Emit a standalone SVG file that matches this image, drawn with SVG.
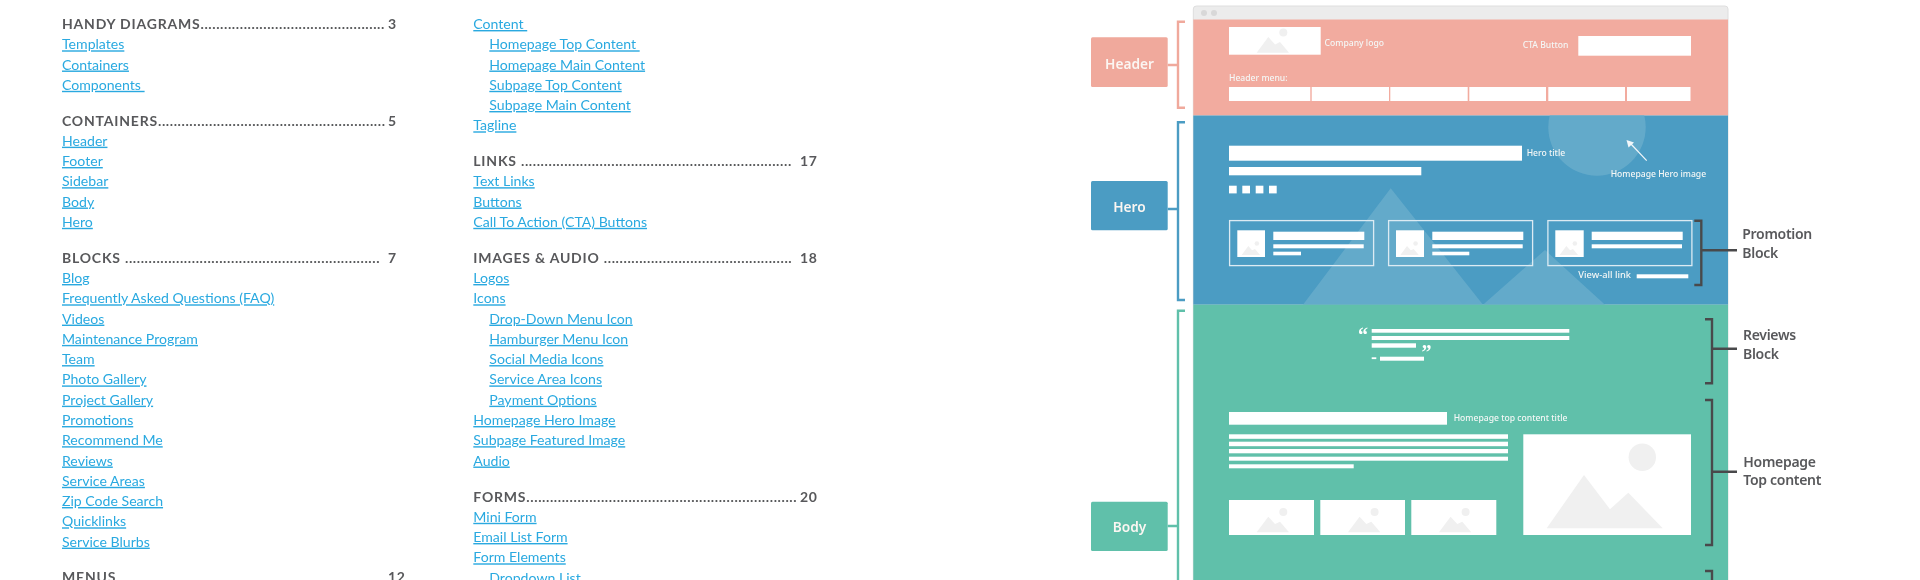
<svg xmlns="http://www.w3.org/2000/svg" width="1920" height="580" viewBox="0 0 1920 580">
<style>
text{white-space:pre}
.h{font:700 14px Lato,sans-serif;fill:#58595b;letter-spacing:.8px}
.h tspan{letter-spacing:.6px}
.l{font:400 14.1px Lato,sans-serif;fill:#29a9e0;text-decoration:underline}
.t{font-family:"Noto Sans",sans-serif;font-size:8.6px;fill:#f4f7f6;font-weight:500}
.n{font-family:"Noto Sans",sans-serif;font-size:13.7px;font-weight:600;fill:#fbf6f2;text-anchor:middle}
.d{font-family:"Noto Sans",sans-serif;font-size:14px;font-weight:600;fill:#58595b;letter-spacing:-.3px}
.q{font-family:"Liberation Serif",serif;font-weight:700;font-size:20px;fill:#fff}
.w{fill:#fff}
.m{fill:#f0f0f0}
.p{fill:none;stroke:#dcebf3;stroke-width:1.3}
.b{fill:none;stroke-width:2.4}
.pk{stroke:#f0a99c}.bl{stroke:#4b9cc3}.gr{stroke:#60c0aa}.dk{stroke:#4a4a4c}
.soft{filter:url(#soft)}
</style>
<defs>
<filter id="soft" filterUnits="userSpaceOnUse" x="0" y="0" width="1920" height="580"><feGaussianBlur stdDeviation=".4"/></filter>
<g id="mtn"><polygon class="m" points="27.7,32.3 39.3,16.7 46,24 51,21.7 60,32.3"/><circle class="m" cx="54.3" cy="12" r="4"/></g>
<clipPath id="heroClip"><rect x="1193.3" y="115.5" width="534.7" height="189.2"/></clipPath>
</defs>
<rect width="1920" height="580" fill="#fff"/>
<g id="toc-left" class="soft">
<text class="h" x="62" y="29">HANDY DIAGRAMS<tspan>...............................................</tspan><tspan x="388">3</tspan></text>
<text class="l" x="62" y="49.3">Templates</text>
<text class="l" x="62" y="69.5">Containers</text>
<text class="l" x="62" y="89.8">Components </text>
<text class="h" x="62" y="125.6">CONTAINERS<tspan>..........................................................</tspan><tspan x="388">5</tspan></text>
<text class="l" x="62" y="145.7">Header</text>
<text class="l" x="62" y="166">Footer</text>
<text class="l" x="62" y="186.2">Sidebar</text>
<text class="l" x="62" y="206.5">Body</text>
<text class="l" x="62" y="226.8">Hero</text>
<text class="h" x="62" y="262.8">BLOCKS <tspan>.................................................................</tspan><tspan x="388">7</tspan></text>
<text class="l" x="62" y="283">Blog</text>
<text class="l" x="62" y="303.3">Frequently Asked Questions (FAQ)</text>
<text class="l" x="62" y="323.6">Videos</text>
<text class="l" x="62" y="343.9">Maintenance Program</text>
<text class="l" x="62" y="364.1">Team</text>
<text class="l" x="62" y="384.4">Photo Gallery</text>
<text class="l" x="62" y="404.7">Project Gallery</text>
<text class="l" x="62" y="425">Promotions</text>
<text class="l" x="62" y="445.2">Recommend Me</text>
<text class="l" x="62" y="465.5">Reviews</text>
<text class="l" x="62" y="485.8">Service Areas</text>
<text class="l" x="62" y="506">Zip Code Search</text>
<text class="l" x="62" y="526.3">Quicklinks</text>
<text class="l" x="62" y="546.6">Service Blurbs</text>
<text class="h" x="62" y="582">MENUS<tspan>....................................................................</tspan><tspan x="388">12</tspan></text>
</g>
<g id="toc-right" class="soft">
<text class="l" x="473.3" y="29">Content </text>
<text class="l" x="489.3" y="49.3">Homepage Top Content </text>
<text class="l" x="489.3" y="69.5">Homepage Main Content</text>
<text class="l" x="489.3" y="89.8">Subpage Top Content</text>
<text class="l" x="489.3" y="110">Subpage Main Content</text>
<text class="l" x="473.3" y="130.3">Tagline</text>
<text class="h" x="473.3" y="165.9">LINKS <tspan>.....................................................................</tspan><tspan x="800">17</tspan></text>
<text class="l" x="473.3" y="186.2">Text Links</text>
<text class="l" x="473.3" y="206.5">Buttons</text>
<text class="l" x="473.3" y="226.8">Call To Action (CTA) Buttons</text>
<text class="h" x="473.3" y="262.8">IMAGES &amp; AUDIO <tspan>................................................</tspan><tspan x="800">18</tspan></text>
<text class="l" x="473.3" y="283">Logos</text>
<text class="l" x="473.3" y="303.3">Icons</text>
<text class="l" x="489.3" y="323.6">Drop-Down Menu Icon</text>
<text class="l" x="489.3" y="343.9">Hamburger Menu Icon</text>
<text class="l" x="489.3" y="364.1">Social Media Icons</text>
<text class="l" x="489.3" y="384.4">Service Area Icons</text>
<text class="l" x="489.3" y="404.7">Payment Options</text>
<text class="l" x="473.3" y="425">Homepage Hero Image</text>
<text class="l" x="473.3" y="445.2">Subpage Featured Image</text>
<text class="l" x="473.3" y="465.5">Audio</text>
<text class="h" x="473.3" y="501.6">FORMS<tspan>.....................................................................</tspan><tspan x="800">20</tspan></text>
<text class="l" x="473.3" y="521.8">Mini Form</text>
<text class="l" x="473.3" y="542">Email List Form</text>
<text class="l" x="473.3" y="562.3">Form Elements</text>
<text class="l" x="489.3" y="582.6">Dropdown List</text>
</g>
<g class="soft">
<g id="browser-frame">
<rect x="1193.3" y="6" width="534.7" height="590" rx="3" fill="#ececec" stroke="#dedede" stroke-width="1"/>
<circle cx="1204" cy="13" r="3" fill="#d8d8d8"/><circle cx="1214" cy="13" r="3" fill="#d8d8d8"/>
</g>
<g id="header-section">
<rect x="1193.3" y="19.5" width="534.7" height="96" fill="#f2ab9f"/>
<rect class="w" x="1229" y="27" width="91.7" height="27.7"/>
<use href="#mtn" transform="translate(1229,20.4)"/>
<text class="t" x="1324.6" y="46">Company logo</text>
<text class="t" x="1522.7" y="48">CTA Button</text>
<rect class="w" x="1578.3" y="36" width="112.7" height="19.7"/>
<text class="t" x="1229" y="81">Header menu:</text>
<rect class="w" x="1229" y="87" width="81.3" height="14"/>
<rect class="w" x="1311.7" y="87" width="77.3" height="14"/>
<rect class="w" x="1390.3" y="87" width="77.4" height="14"/>
<rect class="w" x="1469.3" y="87" width="76.7" height="14"/>
<rect class="w" x="1548.3" y="87" width="76.7" height="14"/>
<rect class="w" x="1627" y="87" width="63.5" height="14"/>
</g>
<g id="hero-section">
<rect x="1193.3" y="115.5" width="534.7" height="189.2" fill="#4b9cc3"/>
<g clip-path="url(#heroClip)" fill="#64aaca">
<circle cx="1597" cy="127" r="48.7"/>
<polygon points="1303,304.7 1390.7,188.3 1483,304.7"/>
<polygon points="1483,304.7 1545,250 1605,304.7"/>
</g>
<rect class="w" x="1229" y="145.7" width="293" height="15"/>
<rect class="w" x="1229" y="167" width="192.3" height="8.3"/>
<rect class="w" x="1229" y="185.7" width="7.7" height="7.7"/><rect class="w" x="1242.3" y="185.7" width="7.7" height="7.7"/><rect class="w" x="1255.7" y="185.7" width="7.7" height="7.7"/><rect class="w" x="1269" y="185.7" width="7.7" height="7.7"/>
<text class="t" x="1526.7" y="156">Hero title</text>
<path d="M1646.7 160.7L1630 143" fill="none" stroke="#f2f7fa" stroke-width="1.2"/>
<polygon points="1626.5,140 1634,142.5 1628.5,147.5" fill="#f2f7fa"/>
<text class="t" x="1610.7" y="176.7">Homepage Hero image</text>
<text class="t" x="1578.3" y="278" style="font-size:9.3px">View-all link</text>
<rect class="w" x="1636.7" y="274.3" width="51.6" height="4"/>
</g>
<g id="promo-card-1">
<rect class="p" x="1229.6" y="220.6" width="144" height="45"/>
<rect class="w" x="1237.3" y="230.3" width="27.7" height="26.7"/>
<use href="#mtn" transform="translate(1225.9,236.6) scale(.57)"/>
<rect class="w" x="1273.3" y="231.7" width="91" height="8.3"/><rect class="w" x="1273.3" y="244.3" width="90.4" height="4"/><rect class="w" x="1273.3" y="251.7" width="27.7" height="3.6"/>
</g>
<g id="promo-card-2">
<rect class="p" x="1388.6" y="220.6" width="144" height="45"/>
<rect class="w" x="1396" y="230.3" width="28" height="26.7"/>
<use href="#mtn" transform="translate(1384.6,236.6) scale(.57)"/>
<rect class="w" x="1432.3" y="231.7" width="91" height="8.3"/><rect class="w" x="1432.3" y="244.3" width="90.4" height="4"/><rect class="w" x="1432.3" y="251.7" width="37" height="3.6"/>
</g>
<g id="promo-card-3">
<rect class="p" x="1547.9" y="220.6" width="144" height="45"/>
<rect class="w" x="1555.3" y="230.3" width="28.4" height="26.7"/>
<use href="#mtn" transform="translate(1543.9,236.6) scale(.57)"/>
<rect class="w" x="1591.7" y="231.7" width="91" height="8.3"/><rect class="w" x="1591.7" y="244.3" width="90.3" height="4"/>
</g>
<g id="body-section">
<rect x="1193.3" y="304.7" width="534.7" height="276" fill="#60c0aa"/>
<text class="q" x="1358" y="342">“</text>
<rect class="w" x="1371.7" y="329" width="197.6" height="3.7"/><rect class="w" x="1371.7" y="336" width="197.6" height="4"/><rect class="w" x="1371.7" y="343.3" width="44.3" height="4.4"/>
<text class="q" x="1421.5" y="358.6">”</text>
<rect class="w" x="1371.7" y="357.3" width="4.6" height="1.8"/><rect class="w" x="1380" y="356.7" width="44" height="4"/>
<rect class="w" x="1229" y="412" width="218" height="12.7"/>
<text class="t" x="1453.7" y="420.7">Homepage top content title</text>
<rect class="w" x="1229" y="434.3" width="279" height="4.5"/><rect class="w" x="1229" y="441.7" width="279" height="4.5"/><rect class="w" x="1229" y="449" width="279" height="4.3"/><rect class="w" x="1229" y="456.7" width="279" height="4"/><rect class="w" x="1229" y="464.3" width="124.7" height="4"/>
<rect class="w" x="1523.3" y="434.3" width="167.7" height="100.7"/>
<circle class="m" cx="1642.3" cy="457.3" r="13.7"/>
<polygon class="m" points="1546.7,528.3 1584,475 1610,509.3 1628.3,492.7 1662.7,528.3"/>
<rect class="w" x="1229" y="500" width="85" height="35"/><use href="#mtn" transform="translate(1229,500)"/>
<rect class="w" x="1320.3" y="500" width="84.7" height="35"/><use href="#mtn" transform="translate(1320.3,500)"/>
<rect class="w" x="1411.3" y="500" width="85" height="35"/><use href="#mtn" transform="translate(1411.3,500)"/>
</g>
<g id="node-header">
<rect x="1091" y="37.3" width="76.7" height="49.7" rx="1.5" fill="#f0a99c"/>
<text class="n" x="1129.5" y="68.5">Header</text>
</g>
<g id="node-hero">
<rect x="1091" y="181" width="76.7" height="49.3" rx="1.5" fill="#4b9cc3"/>
<text class="n" x="1129.5" y="211.7">Hero</text>
</g>
<g id="node-body">
<rect x="1091" y="501.7" width="76.7" height="49.3" rx="1.5" fill="#60c0aa"/>
<text class="n" x="1129.5" y="531.5">Body</text>
</g>
<g id="label-promotion"><text class="d" x="1742.3" y="239.3">Promotion</text><text class="d" x="1742.3" y="257.7">Block</text></g>
<g id="label-reviews"><text class="d" x="1743" y="340.3">Reviews</text><text class="d" x="1743" y="359">Block</text></g>
<g id="label-top-content"><text class="d" x="1743.3" y="466.8">Homepage</text><text class="d" x="1743.3" y="485">Top content</text></g>
<g id="connectors">
<path class="b pk" d="M1185 21.7H1178V107.7H1185M1167.7 65H1178"/>
<path class="b bl" d="M1185 122.3H1178V300H1185M1167.7 209H1178"/>
<path class="b gr" d="M1185 310.7H1178V590M1167.7 526H1178"/>
<path class="b dk" d="M1694.3 220.7H1701.3V285H1694.3M1701.3 250.3H1737"/>
<path class="b dk" d="M1705 319.3H1712V383.3H1705M1712 348.7H1737"/>
<path class="b dk" d="M1705 400H1712V545H1705M1712 471.7H1737"/>
<path class="b dk" d="M1705 571H1712V590"/>
</g>
</g>
</svg>
